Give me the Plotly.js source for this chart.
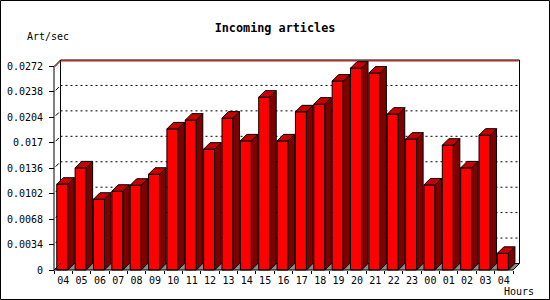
<!DOCTYPE html>
<html>
<head>
<meta charset="utf-8">
<script src="https://cdn.plot.ly/plotly-3.0.1.min.js"></script>
<style>html,body{margin:0;padding:0;background:#fff;}#chart{width:550px;height:300px;}</style>
</head>
<body>
<div id="chart"></div>
<script>
// ---- data ----
const hours = ['04','05','06','07','08','09','10','11','12','13','14','15','16','17','18','19','20','21','22','23','00','01','02','03','04'];
const rates = [0.01147,0.01365,0.00946,0.01053,0.01133,0.0128,0.01886,0.02003,0.01615,0.0203,0.01726,0.0231,0.01726,0.02114,0.02217,0.02525,0.02698,0.02632,0.02083,0.01749,0.01137,0.01668,0.01365,0.01802,0.00223];
const yTickVals = [0,0.0034,0.0068,0.0102,0.0136,0.017,0.0204,0.0238,0.0272];
const yTickText = ['0','0.0034','0.0068','0.0102','0.0136','0.017','0.0204','0.0238','0.0272'];
const chartTitle = 'Incoming articles';
const yUnit = 'Art/sec';
const xUnit = 'Hours';

// ---- geometry (pixels) ----
const W = 550, H = 300;
const PX0 = 52, PX1 = 522, PY0 = 58, PY1 = 273;
const FX0 = 54, FX1 = 513;            // front x-axis extent
const Y0PX = 270, YTOPPX = 66.5;      // front y-axis: 0 and max tick
const DEPTH = 6.5;                    // 3D depth in px
const n = hours.length;
const yMax = yTickVals[yTickVals.length - 1];
const catW = (FX1 - FX0) / n;
const s = yMax / (Y0PX - YTOPPX);     // value per px
const DX = DEPTH / catW, DY = DEPTH * s;
const xr = [-0.5 - (FX0 - PX0) / catW, -0.5 + (PX1 - FX0) / catW];
const yr = [-(PY1 - Y0PX) * s, (Y0PX - PY0) * s];
const xL = -0.5, xR = n - 0.5;
const BW = 0.6, BOFF = -0.35;

// ---- traces ----
const idx = hours.map((_, i) => i);
const frontTrace = {
  type: 'bar', x: idx, y: rates, width: BW, offset: BOFF,
  marker: {color: '#ff0000', line: {color: '#000', width: 1}},
  hoverinfo: 'skip', showlegend: false
};
const sx = [], sy = [], tx = [], ty = [];
rates.forEach((v, i) => {
  const a = i + BOFF, b = i + BOFF + BW;
  sx.push(b, b + DX, b + DX, b, b, null);
  sy.push(0, DY, v + DY, v, 0, null);
  tx.push(a, a + DX, b + DX, b, a, null);
  ty.push(v, v + DY, v + DY, v, v, null);
});
const sideTrace = {type: 'scatter', mode: 'lines', x: sx, y: sy, fill: 'toself', fillcolor: '#800000',
  line: {color: '#000', width: 1}, hoverinfo: 'skip', showlegend: false};
const topTrace = {type: 'scatter', mode: 'lines', x: tx, y: ty, fill: 'toself', fillcolor: '#c80000',
  line: {color: '#000', width: 1}, hoverinfo: 'skip', showlegend: false};
const dummyTrace = {type: 'scatter', x: [null], y: [null], xaxis: 'x2', showlegend: false, hoverinfo: 'skip'};

// ---- frame shapes ----
const shapes = [];
const L = (x0, y0, x1, y1, color, layer, dash) => shapes.push({type: 'line', xref: 'x', yref: 'y', x0, y0, x1, y1, layer,
  line: {color, width: 1, dash: dash || 'solid'}});
// floor
shapes.push({type: 'path', xref: 'x', yref: 'y', layer: 'below', fillcolor: '#8c8c8c', line: {width: 0},
  path: `M${xL},0 L${xL + DX},${DY} L${xR + DX},${DY} L${xR},0 Z`});
// gridlines on back wall
yTickVals.forEach(t => {
  if (t > 0 && t < yMax) L(xL + DX, t + DY, xR + DX, t + DY, '#000', 'below', '2px,3px');
  if (t < yMax) L(xL + 0.25 * DX, t + 0.25 * DY, xL + 0.75 * DX, t + 0.75 * DY, '#000', 'below');
});
// back wall edges
L(xL + DX, DY, xL + DX, yMax + DY, '#000', 'below');
L(xR + DX, DY, xR + DX, yMax + DY, '#000', 'below');
L(xL + DX, DY, xR + DX, DY, '#000', 'below');
L(xL + 0.15 * DX, yMax - s * 0.4, xL + DX, yMax + DY - s, '#ff0000', 'below');
L(xL + DX, yMax + DY - s, xR + DX - 0.05, yMax + DY - s, '#ff0000', 'below');
L(xL, yMax, xL + DX, yMax + DY, '#000', 'below');
L(xL + DX, yMax + DY, xR + DX, yMax + DY, '#000', 'below');
// front axes
L(xL, 0, xL, yMax, '#000', 'above');
L(xL, 0, xR, 0, '#000', 'above');
L(xR, 0, xR + DX, DY, '#000', 'above');
L(xL, 0, xL + DX, DY, '#000', 'above');
// outer border
const pw = PX1 - PX0, ph = PY1 - PY0;
shapes.push({type: 'rect', xref: 'paper', yref: 'paper', layer: 'above',
  x0: (0.5 - PX0) / pw, x1: (W - 0.5 - PX0) / pw, y0: (PY1 - (H - 0.5)) / ph, y1: (PY1 - 0.5) / ph,
  line: {color: '#000', width: 1}});

const fnt = {family: 'DejaVu Sans Mono', size: 10, color: '#000'};
const xPos = (PY1 - Y0PX) / ph;
const layout = {
  width: W, height: H,
  margin: {l: PX0, r: W - PX1, t: PY0, b: H - PY1, pad: 0},
  paper_bgcolor: '#fff', plot_bgcolor: '#fff',
  showlegend: false, bargap: 0,
  title: {text: chartTitle, font: {family: 'DejaVu Sans Mono', size: 11.8, weight: 'bold', color: '#000'},
    x: 0.5, xref: 'container', xanchor: 'center', y: 1 - 27.5 / H, yref: 'container', yanchor: 'middle'},
  xaxis: {range: xr, anchor: 'free', position: xPos, tickmode: 'array', tickvals: idx, ticktext: hours,
    ticks: '', showgrid: false, zeroline: false, showline: false, tickfont: fnt, ticklabelstandoff: 3, fixedrange: true},
  xaxis2: {range: xr, overlaying: 'x', anchor: 'free', position: xPos, tickmode: 'array',
    tickvals: [...idx.map(i => i - 0.5), n - 0.5], ticks: 'outside', ticklen: 3, tickcolor: '#000',
    showticklabels: false, showgrid: false, zeroline: false, showline: false, fixedrange: true},
  yaxis: {range: yr, anchor: 'free', position: (FX0 - PX0) / pw, tickmode: 'array', tickvals: yTickVals, ticktext: yTickText,
    ticks: 'outside', ticklen: 5, tickcolor: '#000', showgrid: false, zeroline: false, showline: false,
    tickfont: fnt, ticklabelstandoff: 4, fixedrange: true},
  shapes: shapes,
  annotations: [
    {text: yUnit, xref: 'paper', yref: 'paper', x: (48 - PX0) / pw, y: (PY1 - 37) / ph, xanchor: 'center', yanchor: 'middle',
      showarrow: false, font: fnt},
    {text: xUnit, xref: 'paper', yref: 'paper', x: (519 - PX0) / pw, y: (PY1 - 291.5) / ph, xanchor: 'center', yanchor: 'middle',
      showarrow: false, font: fnt}
  ]
};
Plotly.newPlot('chart', [frontTrace, sideTrace, topTrace, dummyTrace], layout, {staticPlot: true, displayModeBar: false});
</script>
</body>
</html>
